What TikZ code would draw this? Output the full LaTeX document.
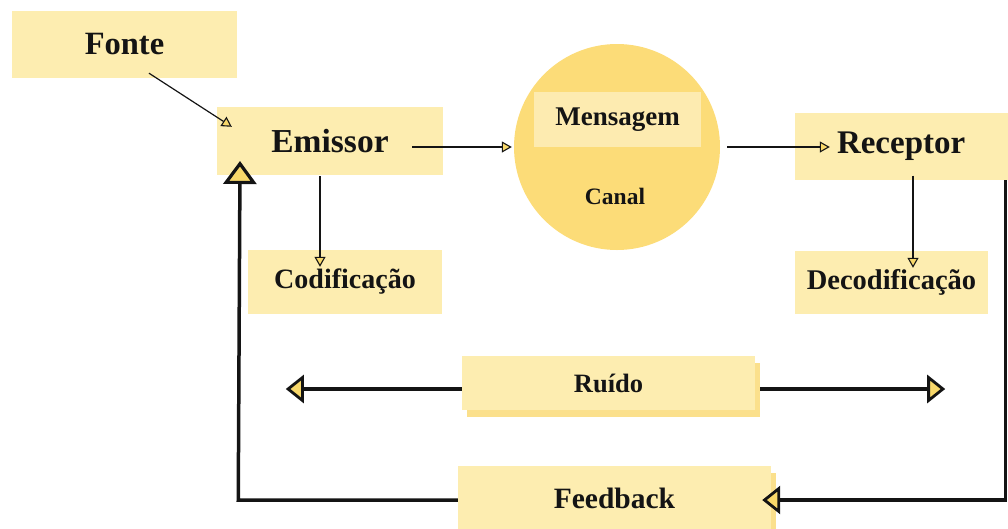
\documentclass[tikz,border=0pt]{standalone}
\usepackage{fontspec}
\setmainfont{Liberation Serif}
\usetikzlibrary{arrows.meta,calc}
\definecolor{boxy}{HTML}{FDEDB0}
\definecolor{circy}{HTML}{FCDC78}
\definecolor{msgy}{HTML}{FDEBB0}
\definecolor{shady}{HTML}{FBE08C}
\definecolor{heady}{HTML}{F8D86A}
\definecolor{ink}{HTML}{141414}
\tikzset{
  ybox/.style={fill=boxy, draw=none, inner sep=0pt, text=ink, font=\bfseries},
  shbox/.style={fill=shady, draw=none, inner sep=0pt},
  thinarrow/.style={draw=ink, line width=1.2pt, -{Triangle[length=10pt,width=11pt,fill=heady,line width=1.1pt]}},
  thickarrow/.style={draw=ink, line width=3.5pt, -{Triangle[length=18pt,width=28pt,fill=heady,line width=2.8pt]}},
  bigarrow/.style={draw=ink, line width=3.5pt, line join=miter, -{Triangle[length=23pt,width=33pt,fill=heady,line width=3.2pt]}},
}
\begin{document}
\begin{tikzpicture}[x=1pt,y=-1pt]
\useasboundingbox (0,0) rectangle (1008,528);
\clip (0,0) rectangle (1008,528);
% boxes
\node[ybox, minimum width=225pt, minimum height=67pt] (fonte) at (124.5,44.5) {\fontsize{32.5}{34}\selectfont Fonte};
\node[ybox, minimum width=226pt, minimum height=68pt] (emissor) at (330,141) {\fontsize{33.5}{35}\selectfont Emissor};
\node[ybox, minimum width=194pt, minimum height=64pt] (codif) at (345,282) {\fontsize{28}{30}\selectfont Codificação};
\node[circle, fill=circy, minimum size=206pt, inner sep=0pt] (canal) at (617,147) {};
\node[fill=msgy, inner sep=0pt, minimum width=167pt, minimum height=55pt, text=ink, font=\bfseries] (msg) at (617.5,119.5) {\fontsize{27}{29}\selectfont Mensagem};
\node[text=ink, font=\bfseries, inner sep=0pt] (canaltxt) at (615,196) {\fontsize{23.5}{25}\selectfont Canal};
\node[ybox, minimum width=225pt, minimum height=67pt, text width=213pt, align=left] (receptor) at (907.5,146.5) {\hspace*{36pt}\fontsize{33}{35}\selectfont Receptor};
\node[ybox, minimum width=193pt, minimum height=63pt] (decod) at (891.5,282.5) {\fontsize{28.5}{30}\selectfont Decodificação};
% shadowed boxes
\node[shbox, minimum width=293pt, minimum height=54pt] (ruidosh) at (613.5,390) {};
\node[ybox, minimum width=293pt, minimum height=54pt] (ruido) at (608.5,383) {\fontsize{26.5}{28}\selectfont Ruído};
\node[shbox, minimum width=313pt, minimum height=64pt] (feedsh) at (619.5,505) {};
\node[ybox, minimum width=313pt, minimum height=64pt] (feed) at (614.5,498) {\fontsize{29.5}{31}\selectfont Feedback};
% helper coordinates
\coordinate (rtop) at (1005,180);
\coordinate (rbot) at (1005,500);
\coordinate (lbot) at (240,500);
\coordinate (ltop) at (240,161);
% connectors
\draw[thinarrow] ($(fonte.south)+(24.5,-5)$) -- ($(emissor.north west)+(15,20)$);
\draw[thinarrow] ($(emissor.east)+(-31,6)$) -- ($(canal.west)+(-2,0)$);
\draw[thinarrow] ($(canal.east)+(7,0)$) -- ($(receptor.west)+(35,0.5)$);
\draw[thinarrow] ($(emissor.south)+(-10,1)$) -- ($(codif.north)+(-25,17)$);
\draw[thinarrow] ($(receptor.south)+(5.5,-4.5)$) -- ($(decod.north)+(21.5,17)$);
\draw[thickarrow] (ruido.west) ++(0,6) -- ++(-176,0);
\draw[thickarrow] ($(ruidosh.east)+(0,-1)$) -- ++(185,0);
\draw[draw=ink, line width=3pt] (rtop) -- (rbot);
\draw[thickarrow] ($(rbot)+(1.5,0)$) -- ($(feedsh.east)+(-14,-5)$);
\draw[bigarrow] (feed.west |- lbot) -- ($(lbot)+(-1.75,0)$) -- (ltop);
\end{tikzpicture}
\end{document}
